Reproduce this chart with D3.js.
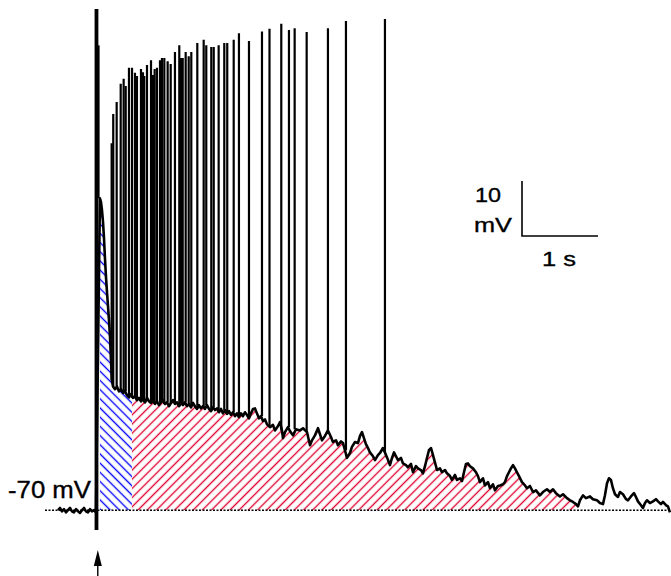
<!DOCTYPE html>
<html>
<head>
<meta charset="utf-8">
<script src="https://cdn.jsdelivr.net/npm/d3@7"></script>
<style>
body { margin: 0; background: #fff; }
svg { display: block; }
text { font-family: "Liberation Sans", Arial, sans-serif; fill: #000; stroke: #000; stroke-width: 0.35px; }
</style>
</head>
<body>
<svg id="chart" width="671" height="576"></svg>
<script>
// membrane potential trace, [time (s), mV], spikes left out
var tracePts = [
  [-0.513,-70.0],[-0.487,-69.6],[-0.461,-70.2],[-0.434,-69.8],[-0.408,-70.4],[-0.382,-70.0],
  [-0.355,-69.6],[-0.329,-70.2],[-0.303,-70.4],[-0.276,-69.8],[-0.250,-70.2],[-0.224,-70.5],
  [-0.197,-70.0],[-0.171,-69.6],[-0.145,-70.2],[-0.118,-70.4],[-0.092,-69.8],[-0.066,-70.2],
  [-0.039,-70.0],[-0.013,-70.4],
  [0.039,-13.3],[0.053,-14.0],[0.066,-15.5],[0.079,-17.6],[0.092,-20.5],[0.105,-24.2],
  [0.118,-27.5],[0.132,-30.4],[0.145,-32.9],[0.158,-35.5],[0.171,-38.4],[0.184,-42.7],
  [0.197,-46.4],[0.211,-47.5],[0.237,-48.0],[0.263,-47.5],[0.289,-48.4],[0.316,-48.0],
  [0.342,-48.7],[0.368,-48.4],[0.395,-49.1],[0.421,-49.5],[0.447,-48.9],[0.474,-49.6],
  [0.500,-49.3],[0.526,-50.0],[0.553,-49.6],[0.579,-50.2],[0.605,-49.8],[0.632,-50.4],
  [0.658,-49.6],[0.684,-50.2],[0.711,-50.5],[0.737,-50.0],[0.763,-50.7],[0.789,-50.2],
  [0.816,-50.9],[0.842,-50.4],[0.868,-50.0],[0.895,-50.7],[0.921,-50.4],[0.947,-51.1],
  [0.974,-50.5],[1.000,-50.0],[1.026,-50.7],[1.053,-50.4],[1.079,-51.1],[1.105,-50.5],
  [1.132,-50.9],[1.158,-50.4],[1.184,-51.1],[1.211,-50.7],[1.237,-51.3],[1.263,-50.5],
  [1.289,-51.1],[1.316,-51.6],[1.342,-50.9],[1.368,-51.5],[1.395,-51.1],[1.421,-51.6],
  [1.447,-50.9],[1.474,-51.6],[1.500,-52.0],[1.526,-51.3],[1.553,-51.8],[1.579,-51.5],
  [1.605,-52.2],[1.632,-51.6],[1.658,-52.4],[1.684,-51.8],[1.711,-52.5],[1.737,-52.0],
  [1.763,-52.7],[1.789,-52.2],[1.816,-52.9],[1.842,-52.4],[1.868,-53.1],[1.895,-52.4],
  [1.921,-52.9],[1.947,-52.2],[1.974,-52.7],[2.000,-53.3],[2.026,-52.4],[2.053,-51.6],
  [2.079,-51.5],[2.105,-52.4],[2.132,-53.3],[2.158,-52.9],[2.184,-53.8],[2.211,-53.5],
  [2.237,-54.4],[2.276,-54.9],[2.316,-54.5],[2.342,-55.5],[2.382,-54.7],[2.408,-54.0],
  [2.434,-55.5],[2.447,-56.9],[2.474,-55.8],[2.513,-54.9],[2.539,-55.6],[2.579,-56.4],
  [2.618,-55.3],[2.671,-55.5],[2.711,-55.1],[2.763,-55.8],[2.803,-58.2],[2.829,-57.3],
  [2.868,-56.4],[2.908,-55.1],[2.961,-57.3],[3.000,-56.5],[3.039,-55.5],[3.079,-56.7],
  [3.105,-57.6],[3.145,-57.3],[3.171,-58.2],[3.211,-57.5],[3.237,-57.8],[3.263,-59.1],
  [3.289,-60.5],[3.329,-59.6],[3.355,-58.5],[3.395,-57.6],[3.434,-57.8],[3.461,-56.5],
  [3.487,-55.8],[3.513,-56.9],[3.539,-58.0],[3.566,-58.7],[3.592,-59.5],[3.632,-60.2],
  [3.658,-60.9],[3.697,-60.0],[3.724,-59.6],[3.763,-58.7],[3.789,-59.5],[3.816,-60.4],
  [3.855,-61.8],[3.882,-60.5],[3.908,-59.5],[3.934,-60.2],[3.961,-60.9],[4.000,-60.5],
  [4.026,-61.5],[4.066,-61.8],[4.092,-62.2],[4.132,-61.6],[4.158,-63.1],[4.197,-62.0],
  [4.224,-62.4],[4.263,-62.7],[4.289,-63.3],[4.316,-62.0],[4.342,-60.5],[4.368,-59.1],
  [4.395,-58.7],[4.421,-60.0],[4.447,-61.3],[4.474,-62.7],[4.513,-62.4],[4.539,-63.1],
  [4.579,-62.7],[4.605,-63.3],[4.645,-63.8],[4.671,-64.5],[4.711,-63.6],[4.737,-64.5],
  [4.776,-64.2],[4.803,-64.7],[4.829,-63.1],[4.855,-61.6],[4.882,-61.5],[4.908,-62.0],
  [4.947,-62.4],[4.987,-63.1],[5.013,-63.8],[5.039,-64.9],[5.079,-64.2],[5.105,-65.5],
  [5.145,-64.9],[5.171,-66.0],[5.211,-65.3],[5.237,-66.4],[5.276,-65.6],[5.303,-65.5],
  [5.342,-65.3],[5.368,-64.9],[5.395,-63.8],[5.421,-63.1],[5.447,-62.4],[5.474,-61.8],
  [5.500,-62.4],[5.526,-63.1],[5.553,-63.8],[5.592,-64.9],[5.632,-65.5],[5.658,-66.0],
  [5.697,-65.6],[5.737,-66.7],[5.776,-66.4],[5.829,-67.3],[5.868,-66.7],[5.921,-66.2],
  [5.961,-66.7],[6.000,-66.2],[6.039,-66.9],[6.092,-67.5],[6.132,-67.1],[6.184,-67.8],
  [6.224,-68.2],[6.263,-68.5],[6.303,-68.9],[6.329,-69.3],[6.355,-68.2],[6.395,-67.3],
  [6.434,-67.8],[6.487,-67.5],[6.526,-68.0],[6.579,-68.2],[6.618,-68.7],[6.658,-68.9],
  [6.684,-67.3],[6.711,-65.1],[6.737,-64.2],[6.763,-64.5],[6.789,-66.0],[6.816,-67.1],
  [6.855,-67.6],[6.882,-66.7],[6.921,-67.1],[6.961,-68.0],[6.987,-68.2],[7.026,-67.5],
  [7.066,-66.9],[7.092,-67.6],[7.118,-68.4],[7.158,-69.1],[7.184,-69.6],[7.211,-68.7],
  [7.237,-68.2],[7.276,-68.7],[7.316,-68.4],[7.355,-68.0],[7.382,-68.4],[7.421,-68.9],
  [7.447,-68.5],[7.487,-69.1],[7.513,-69.3],[7.539,-70.4]
];

// action potentials: time (s) and peak (mV)
var spikeT = [0.020,0.193,0.214,0.259,0.312,0.351,0.378,0.421,0.461,0.500,0.526,0.579,
  0.605,0.622,0.658,0.711,0.737,0.759,0.789,0.829,0.855,0.886,0.930,0.970,1.026,1.083,
  1.105,1.128,1.167,1.207,1.241,1.320,1.404,1.438,1.504,1.536,1.601,1.675,1.714,1.799,
  1.868,2.000,2.171,2.270,2.425,2.526,2.601,2.759,3.039,3.276,3.789];
var spikePeak = [14.5,-3.3,2.0,4.2,7.5,8.4,7.1,10.4,10.4,9.5,8.9,10.2,
  9.6,8.9,10.9,11.8,9.1,10.2,10.4,11.8,12.2,12.2,11.6,11.1,13.3,14.5,
  12.2,12.2,13.3,12.5,13.3,14.9,15.5,14.5,14.2,14.2,14.5,14.9,14.9,15.5,
  16.7,15.3,17.0,17.5,18.4,17.3,17.6,16.9,17.6,18.9,19.3];

// stimulus artifact
var stimT = 0;
var stimRange = [-73.6, 21.1];
var restV = -70;

// shaded windows (s)
var earlyWindow = [0, 0.46];
var lateWindow = [0.46, 6.33];

var svg = d3.select("#chart");
var x = d3.scaleLinear().domain([-0.684, 7.553]).range([45, 671]);
var y = d3.scaleLinear().domain([-73.6, 21.1]).range([530, 9]);

var defs = svg.append("defs");
function hatch(id, color, angle) {
    var p = defs.append("pattern")
        .attr("id", id)
        .attr("patternUnits", "userSpaceOnUse")
        .attr("width", 6.5).attr("height", 6.5)
        .attr("patternTransform", "rotate(" + angle + ")");
    p.append("line")
        .attr("x1", 3.25).attr("y1", -1).attr("x2", 3.25).attr("y2", 7.5)
        .attr("stroke", color).attr("stroke-width", 1.35);
}
hatch("blueHatch", "#0000ff", -45);
hatch("redHatch", "#e0002e", 45);

function clipWin(id, win) {
    defs.append("clipPath").attr("id", id)
        .append("rect")
        .attr("x", x(win[0])).attr("y", 0)
        .attr("width", x(win[1]) - x(win[0])).attr("height", y(restV));
}
clipWin("earlyClip", earlyWindow);
clipWin("lateClip", lateWindow);

var after = tracePts.filter(function(d){ return d[0] >= stimT; });
var area = d3.area()
    .x(function(d){ return x(d[0]); })
    .y0(y(restV))
    .y1(function(d){ return y(d[1]); });

svg.append("path").datum(after)
    .attr("d", area)
    .attr("fill", "url(#blueHatch)")
    .attr("clip-path", "url(#earlyClip)");
svg.append("path").datum(after)
    .attr("d", area)
    .attr("fill", "url(#redHatch)")
    .attr("clip-path", "url(#lateClip)");

// dotted -70 mV line
svg.append("line")
    .attr("x1", x.range()[0]).attr("x2", x.range()[1])
    .attr("y1", y(restV)).attr("y2", y(restV))
    .attr("stroke", "#000").attr("stroke-width", 1.6)
    .attr("stroke-dasharray", "2,1.5");

// trace
var line = d3.line()
    .x(function(d){ return x(d[0]); })
    .y(function(d){ return y(d[1]); });
svg.append("path").datum(tracePts)
    .attr("d", line)
    .attr("fill", "none")
    .attr("stroke", "#000")
    .attr("stroke-width", 2.6)
    .attr("stroke-linejoin", "round");

// spikes rise from the trace
var nearest = d3.bisector(function(d){ return d[0]; }).center;
svg.append("g").selectAll("line")
    .data(spikeT)
    .enter().append("line")
    .attr("x1", function(d){ return x(d); })
    .attr("x2", function(d){ return x(d); })
    .attr("y1", function(d){ return y(tracePts[nearest(tracePts, d)][1]); })
    .attr("y2", function(d, i){ return y(spikePeak[i]); })
    .attr("stroke", "#000")
    .attr("stroke-width", 2.2);

// stimulus artifact + arrow
svg.append("line")
    .attr("x1", x(stimT) - 0.5).attr("x2", x(stimT) - 0.5)
    .attr("y1", y(stimRange[0])).attr("y2", y(stimRange[1]))
    .attr("stroke", "#000").attr("stroke-width", 3.8);

var ax = x(stimT) + 0.8;
svg.append("line")
    .attr("x1", ax).attr("x2", ax)
    .attr("y1", 562).attr("y2", 576)
    .attr("stroke", "#000").attr("stroke-width", 1.4);
svg.append("path")
    .attr("d", "M" + ax + ",550 L" + (ax - 4) + ",566 L" + (ax + 4) + ",566 Z")
    .attr("fill", "#000");

// labels
svg.append("text")
    .attr("x", 8).attr("y", 498)
    .attr("font-size", 23)
    .attr("textLength", 83).attr("lengthAdjust", "spacingAndGlyphs")
    .text("-70 mV");

// scale bar: 1 s, 10 mV
var sbX = 522, sbY = 236;
var sbW = x(1) - x(0), sbH = y(-60) - y(-70);
svg.append("path")
    .attr("d", "M" + sbX + "," + (sbY + sbH) + " V" + sbY + " H" + (sbX + sbW))
    .attr("fill", "none").attr("stroke", "#000").attr("stroke-width", 1.6);
svg.append("text").attr("x", 475).attr("y", 202).attr("font-size", 21)
    .attr("textLength", 26).attr("lengthAdjust", "spacingAndGlyphs").text("10");
svg.append("text").attr("x", 474).attr("y", 232).attr("font-size", 21)
    .attr("textLength", 38).attr("lengthAdjust", "spacingAndGlyphs").text("mV");
svg.append("text").attr("x", 542).attr("y", 266).attr("font-size", 21)
    .attr("textLength", 34).attr("lengthAdjust", "spacingAndGlyphs").text("1 s");
</script>
</body>
</html>
